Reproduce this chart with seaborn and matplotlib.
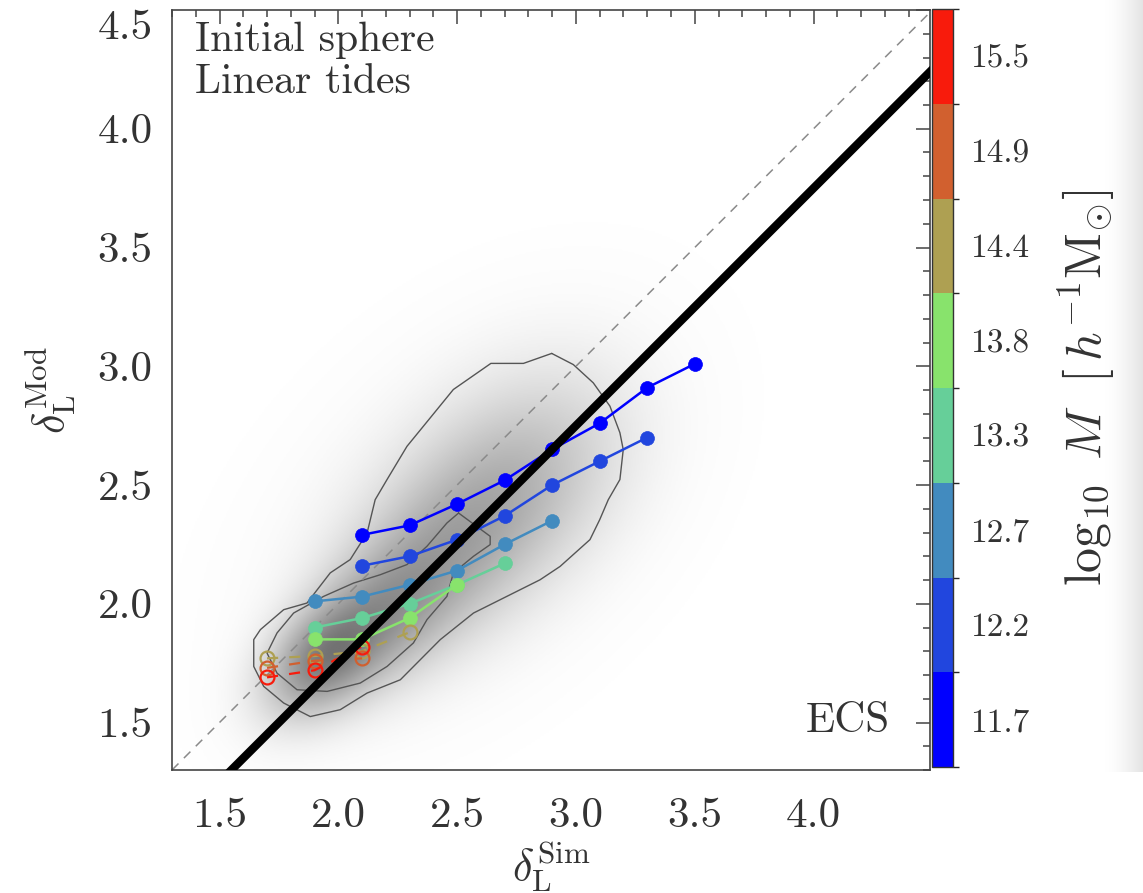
import numpy as np
import pandas as pd
import matplotlib
matplotlib.use("Agg")
import matplotlib.pyplot as plt
import matplotlib.colors as mcolors
import matplotlib.cm as mcm
import seaborn as sns

# ---- mass bins (log10 M [h^-1 Msun]) and their colours ----
mass_labels = ["11.7", "12.2", "12.7", "13.3", "13.8", "14.4", "14.9", "15.5"]
mass_colors = ["#0000ff", "#2146de", "#428bbf", "#66cf99", "#88e36c",
               "#aea052", "#d1602f", "#f81b0c"]

# ---- median delta_L^Mod vs delta_L^Sim per mass bin ----
x_117 = [2.1, 2.3, 2.5, 2.7, 2.9, 3.1, 3.3, 3.5]
y_117 = [2.29, 2.33, 2.42, 2.52, 2.65, 2.76, 2.91, 3.01]
x_122 = [2.1, 2.3, 2.5, 2.7, 2.9, 3.1, 3.3]
y_122 = [2.16, 2.20, 2.27, 2.37, 2.50, 2.60, 2.70]
x_127 = [1.9, 2.1, 2.3, 2.5, 2.7, 2.9]
y_127 = [2.01, 2.03, 2.08, 2.14, 2.25, 2.35]
x_133 = [1.9, 2.1, 2.3, 2.5, 2.7]
y_133 = [1.90, 1.94, 2.00, 2.08, 2.17]
x_138 = [1.9, 2.1, 2.3, 2.5]
y_138 = [1.85, 1.85, 1.94, 2.08]
x_144 = [1.7, 1.9, 2.1, 2.3]
y_144 = [1.77, 1.78, 1.80, 1.88]
x_149 = [1.7, 1.9, 2.1]
y_149 = [1.73, 1.76, 1.77]
x_155 = [1.7, 1.9, 2.1]
y_155 = [1.69, 1.72, 1.82]

series_x = [x_117, x_122, x_127, x_133, x_138, x_144, x_149, x_155]
series_y = [y_117, y_122, y_127, y_133, y_138, y_144, y_149, y_155]
series_open = [False, False, False, False, False, True, True, True]

# ---- best-fit relation delta_Mod = slope * delta_Sim + offset ----
fit_slope = 1.0
fit_offset = -0.25

# ---- halo distribution: iso-density contours ----
outer_cx = [2.898, 2.779, 2.642, 2.484, 2.387, 2.289, 2.205, 2.155, 2.121, 2.050,
            1.966, 1.868, 1.770, 1.672, 1.644, 1.644, 1.686, 1.770, 1.882, 2.008,
            2.121, 2.261, 2.429, 2.569, 2.709, 2.849, 2.933, 3.059, 3.100, 3.136,
            3.185, 3.199, 3.185, 3.143, 3.073, 2.989, 2.898]
outer_cy = [3.054, 3.012, 3.012, 2.902, 2.783, 2.663, 2.523, 2.438, 2.298, 2.186,
            2.130, 2.003, 1.975, 1.891, 1.849, 1.736, 1.652, 1.582, 1.525, 1.554,
            1.624, 1.680, 1.849, 1.961, 2.031, 2.101, 2.157, 2.270, 2.354, 2.438,
            2.523, 2.649, 2.720, 2.832, 2.930, 3.007, 3.054]
inner_cx = [2.506, 2.639, 2.639, 2.569, 2.484, 2.457, 2.373, 2.316, 2.205, 2.092,
            1.953, 1.826, 1.742, 1.700, 1.742, 1.812, 1.938, 2.064, 2.176, 2.289,
            2.373, 2.457, 2.506]
inner_cy = [2.382, 2.284, 2.249, 2.200, 2.130, 2.031, 1.933, 1.835, 1.736, 1.666,
            1.631, 1.638, 1.708, 1.792, 1.877, 1.961, 2.031, 2.087, 2.122, 2.165,
            2.242, 2.340, 2.382]

# smooth density components (centre, weight, width along / across the ridge)
blob_x = [1.93, 2.18, 2.48, 2.78, 2.50]
blob_y = [1.76, 1.95, 2.24, 2.55, 2.35]
blob_w = [1.00, 0.70, 0.50, 0.38, 0.14]
blob_sa = [0.18, 0.24, 0.30, 0.32, 0.48]
blob_sc = [0.12, 0.16, 0.21, 0.24, 0.30]

x_ticks = [1.5, 2.0, 2.5, 3.0, 3.5, 4.0]
y_ticks = [1.5, 2.0, 2.5, 3.0, 3.5, 4.0, 4.5]

sns.set_theme(style="white")
plt.rcParams["font.family"] = ["cmr10", "DejaVu Serif"]
plt.rcParams["mathtext.fontset"] = "cm"
plt.rcParams["axes.formatter.use_mathtext"] = True

text_col = "#333333"
fig = plt.figure(figsize=(11.43, 8.93), dpi=100)

# soft page shadow along the right edge
sh_ax = fig.add_axes([1105 / 1143, 1 - 772 / 893, 38 / 1143, 772 / 893])
sh_ax.imshow(np.linspace(0, 1, 100)[None, :] ** 1.5, aspect="auto",
             cmap=mcolors.LinearSegmentedColormap.from_list("sh", ["#ffffff", "#e4e4e4"]),
             extent=[0, 1, 0, 1])
sh_ax.set_axis_off()

ax = fig.add_axes([172 / 1143, 1 - 770 / 893, 758 / 1143, 760 / 893])
xmin, xmax, ymin, ymax = 1.3, 4.49, 1.3, 4.5

# density shading
gx = np.linspace(xmin, xmax, 500)
gy = np.linspace(ymin, ymax, 500)
GX, GY = np.meshgrid(gx, gy)
dens = np.zeros_like(GX)
for cx, cy, w, sa, sc in zip(blob_x, blob_y, blob_w, blob_sa, blob_sc):
    du = ((GX - cx) + (GY - cy)) / np.sqrt(2)
    dv = ((GY - cy) - (GX - cx)) / np.sqrt(2)
    dens += w * np.exp(-0.5 * (du ** 2 / sa ** 2 + dv ** 2 / sc ** 2))
dens = (dens / dens.max()) ** 0.8
shade_cmap = mcolors.LinearSegmentedColormap.from_list("shade", ["#ffffff", "#727272"])
ax.imshow(dens, extent=[xmin, xmax, ymin, ymax], origin="lower", cmap=shade_cmap,
          vmin=0, vmax=1, aspect="auto", interpolation="bilinear", zorder=0)

ax.plot(outer_cx, outer_cy, color="#555555", lw=1.0, zorder=1)
ax.plot(inner_cx, inner_cy, color="#555555", lw=1.0, zorder=1)

# one-to-one line
ax.plot([xmin, xmax], [xmin, xmax], color="#8a8a8a", lw=1.1, dashes=(6, 5), zorder=2)

# median relations per mass bin
for xs, ys, col, is_open in zip(series_x, series_y, mass_colors, series_open):
    df = pd.DataFrame({"sim": xs, "mod": ys})
    if is_open:
        sns.lineplot(data=df, x="sim", y="mod", ax=ax, color=col, lw=1.6,
                     linestyle=(0, (5, 5)), marker="o", markersize=10,
                     markerfacecolor="none", markeredgecolor=col,
                     markeredgewidth=1.6, legend=False, zorder=3)
    else:
        sns.lineplot(data=df, x="sim", y="mod", ax=ax, color=col, lw=1.8,
                     marker="o", markersize=10, markerfacecolor=col,
                     markeredgecolor=col, markeredgewidth=0.5,
                     legend=False, zorder=3)

# best-fit line
fx = np.array([xmin, xmax + 0.2])
ax.plot(fx, fit_slope * fx + fit_offset, color="black", lw=6.0,
        solid_capstyle="butt", zorder=4)

ax.set_xlim(xmin, xmax)
ax.set_ylim(ymin, ymax)
ax.set_xticks(x_ticks)
ax.set_yticks(y_ticks)
ax.set_xticklabels([f"{v:.1f}" for v in x_ticks])
ax.set_yticklabels([f"{v:.1f}" for v in y_ticks])
ax.get_yticklabels()[-1].set_verticalalignment("top")
ax.xaxis.set_minor_locator(matplotlib.ticker.MultipleLocator(0.1))
ax.yaxis.set_minor_locator(matplotlib.ticker.MultipleLocator(0.1))
ax.tick_params(which="both", direction="in", top=True, right=True,
               color="#444444", width=1.1, labelcolor=text_col, labelsize=31)
ax.tick_params(which="major", length=10)
ax.tick_params(which="minor", length=5)
ax.tick_params(axis="x", which="major", pad=20)
ax.tick_params(axis="y", which="major", pad=14)
for sp in ax.spines.values():
    sp.set_color("#444444")
    sp.set_linewidth(1.2)

ax.set_xlabel(r"$\delta_{\rm L}^{\rm Sim}$", fontsize=32, color=text_col, labelpad=3)
ax.set_ylabel(r"$\delta_{\rm L}^{\rm Mod}$", fontsize=32, color=text_col, labelpad=14)

ax.text(0.03, 0.985, "Initial sphere\nLinear tides", transform=ax.transAxes,
        ha="left", va="top", fontsize=30, color=text_col, linespacing=1.15)
ax.text(0.947, 0.04, "ECS", transform=ax.transAxes, ha="right", va="bottom",
        fontsize=31, color=text_col)

# discrete colour bar of mass bins
cax = fig.add_axes([932 / 1143, 1 - 767 / 893, 21 / 1143, 758 / 893])
cmap = mcolors.ListedColormap(mass_colors)
norm = mcolors.BoundaryNorm(np.arange(len(mass_colors) + 1), cmap.N)
cb = fig.colorbar(mcm.ScalarMappable(norm=norm, cmap=cmap), cax=cax,
                  ticks=np.arange(len(mass_colors)) + 0.5)
cb.ax.set_yticklabels(mass_labels)
cb.ax.tick_params(length=0, labelsize=24, labelcolor=text_col, pad=12)
cb.outline.set_edgecolor("#333333")
cb.outline.set_linewidth(1.0)
cb.set_label(r"$\log_{10}\ M\ \ [\,h^{-1}{\rm M}_{\odot}]$", fontsize=36,
             color=text_col, labelpad=20)

fig.savefig("out.png", dpi=100)
